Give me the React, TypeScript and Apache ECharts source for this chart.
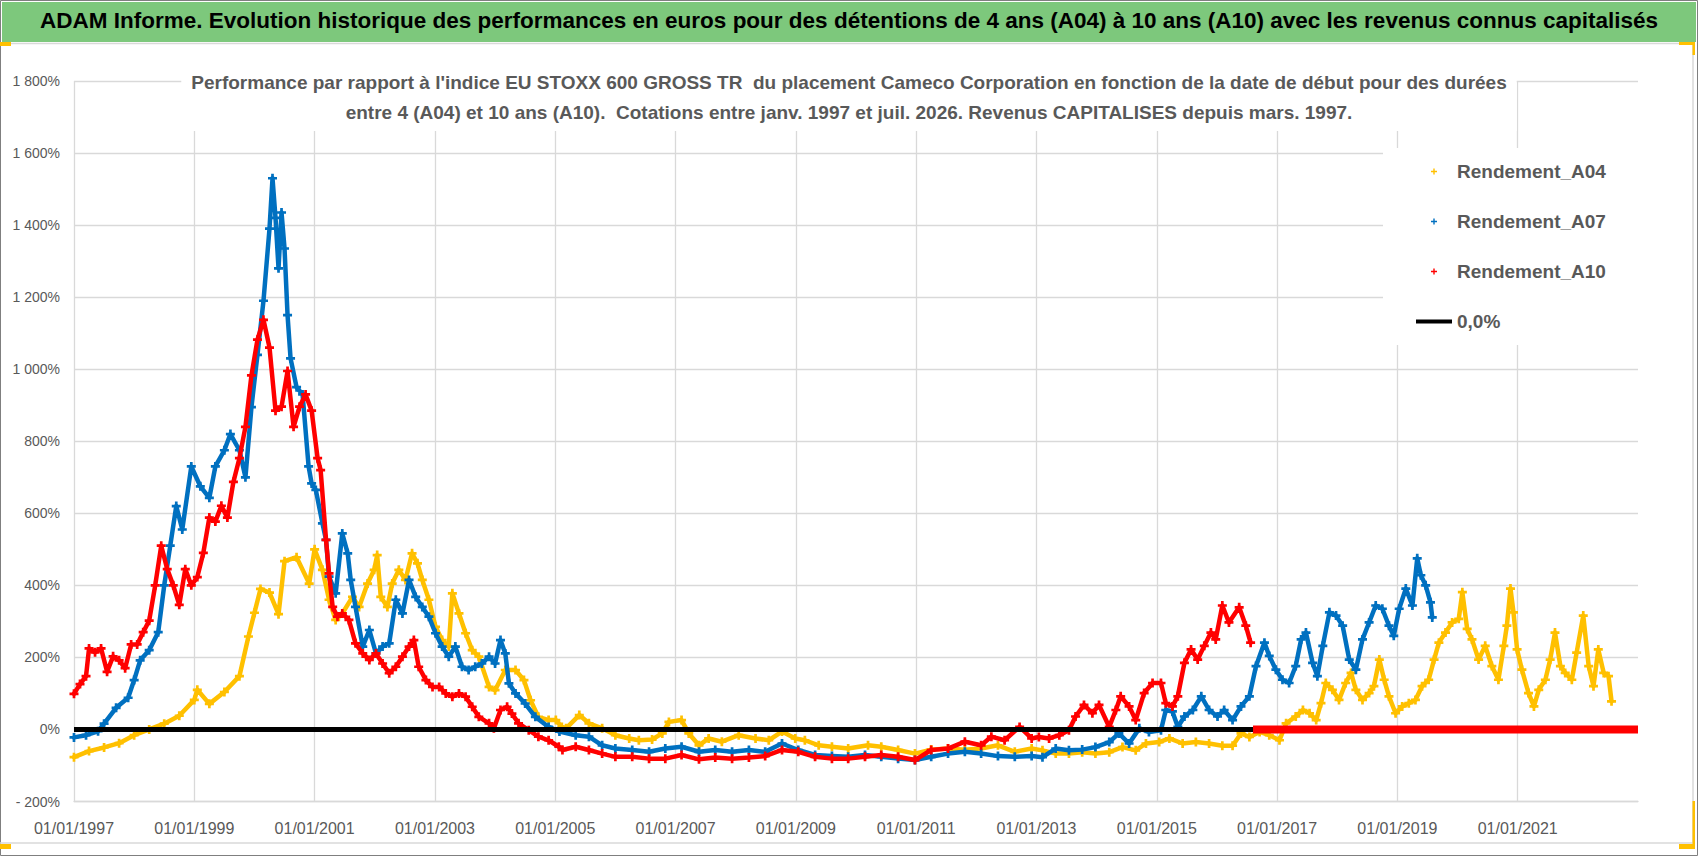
import React, { useEffect, useRef } from "react";
import * as echarts from "echarts";

const MAIN_TITLE =
  "ADAM Informe. Evolution historique des performances en euros pour des détentions de 4 ans (A04) à 10 ans (A10) avec les revenus connus capitalisés";
const SUBTITLE_LINES = [
  "Performance par rapport à l'indice EU STOXX 600 GROSS TR  du placement Cameco Corporation en fonction de la date de début pour des durées",
  "entre 4 (A04) et 10 ans (A10).  Cotations entre janv. 1997 et juil. 2026. Revenus CAPITALISES depuis mars. 1997.",
];
const SERIES_NAMES = ["Rendement_A04", "Rendement_A07", "Rendement_A10", "0,0%"];
const SERIES_COLORS = ["#FFC000", "#0070C0", "#FF0000", "#000000"];

const X_START = 1997;
const X_END = 2023;
const X_STEP = 2;
const Y_MIN = -200;
const Y_MAX = 1800;
const Y_STEP = 200;

// [decimal year of start date, performance %]
const A04: [number, number][] = [
  [1997.0, -77], [1997.25, -60], [1997.5, -50], [1997.75, -38], [1998.0, -16], [1998.25, 0], [1998.5, 16], [1998.75, 38],
  [1999.0, 82], [1999.05, 110], [1999.25, 71], [1999.5, 104], [1999.75, 148], [1999.9, 258], [2000.0, 324], [2000.1, 390],
  [2000.25, 380], [2000.4, 320], [2000.5, 467], [2000.7, 478], [2000.91, 405], [2001.0, 500], [2001.13, 443], [2001.24, 360],
  [2001.35, 304], [2001.46, 322], [2001.63, 368], [2001.74, 340], [2001.88, 405], [2001.99, 443], [2002.04, 484], [2002.1, 368],
  [2002.21, 340], [2002.29, 405], [2002.4, 443], [2002.51, 415], [2002.62, 489], [2002.71, 461], [2002.79, 415], [2002.9, 360],
  [2003.01, 285], [2003.12, 248], [2003.23, 230], [2003.29, 378], [2003.4, 322], [2003.51, 267], [2003.62, 220], [2003.73, 202],
  [2003.9, 118], [2004.0, 109], [2004.17, 165], [2004.34, 165], [2004.48, 137], [2004.59, 81], [2004.72, 35], [2004.89, 26],
  [2005.01, 26], [2005.11, 7], [2005.18, 3], [2005.4, 40], [2005.56, 17], [2005.78, 3], [2006.0, -16], [2006.23, -25],
  [2006.39, -30], [2006.61, -28], [2006.78, -11], [2006.89, 21], [2007.1, 26], [2007.22, -11], [2007.39, -44], [2007.55, -25],
  [2007.77, -34], [2008.05, -16], [2008.33, -25], [2008.55, -30], [2008.77, -6], [2008.99, -25], [2009.15, -30], [2009.38, -44],
  [2009.6, -48], [2009.87, -53], [2010.2, -44], [2010.42, -48], [2010.7, -57], [2010.98, -67], [2011.25, -56], [2011.53, -53],
  [2011.81, -56], [2012.08, -53], [2012.36, -44], [2012.64, -62], [2012.92, -53], [2013.1, -58], [2013.32, -67], [2013.54, -67],
  [2013.76, -63], [2013.98, -67], [2014.21, -63], [2014.43, -49], [2014.65, -58], [2014.82, -39], [2015.04, -35], [2015.21, -25],
  [2015.43, -39], [2015.65, -35], [2015.87, -39], [2016.09, -45], [2016.26, -45], [2016.4, -11], [2016.54, -21], [2016.71, -7],
  [2016.87, -16], [2017.04, -30], [2017.15, 17], [2017.31, 36], [2017.43, 54], [2017.54, 45], [2017.65, 26], [2017.73, 73],
  [2017.81, 129], [2017.92, 110], [2018.03, 82], [2018.14, 129], [2018.23, 157], [2018.31, 110], [2018.42, 82], [2018.53, 101],
  [2018.61, 120], [2018.7, 194], [2018.78, 138], [2018.86, 92], [2018.97, 45], [2019.08, 64], [2019.19, 73], [2019.3, 82],
  [2019.41, 120], [2019.52, 138], [2019.61, 194], [2019.69, 241], [2019.8, 269], [2019.91, 297], [2020.02, 307], [2020.08, 381],
  [2020.16, 279], [2020.24, 250], [2020.35, 194], [2020.46, 232], [2020.57, 176], [2020.68, 138], [2020.77, 232], [2020.82, 288],
  [2020.88, 391], [2020.93, 325], [2020.99, 222], [2021.07, 166], [2021.18, 101], [2021.27, 64], [2021.35, 110], [2021.46, 138],
  [2021.54, 194], [2021.62, 269], [2021.71, 176], [2021.79, 157], [2021.9, 138], [2021.98, 213], [2022.09, 316], [2022.18, 176],
  [2022.26, 120], [2022.34, 222], [2022.43, 157], [2022.51, 148], [2022.56, 78],
];

const A07: [number, number][] = [
  [1997.0, -22], [1997.2, -16], [1997.4, -5], [1997.5, 16], [1997.7, 60], [1997.9, 88], [1998.0, 137], [1998.1, 192],
  [1998.25, 220], [1998.4, 270], [1998.5, 400], [1998.6, 510], [1998.7, 620], [1998.8, 555], [1998.95, 730], [1999.1, 675],
  [1999.25, 643], [1999.35, 730], [1999.5, 775], [1999.6, 820], [1999.75, 775], [1999.85, 700], [1999.95, 895], [2000.05, 1040],
  [2000.15, 1190], [2000.25, 1390], [2000.3, 1530], [2000.35, 1420], [2000.4, 1280], [2000.45, 1435], [2000.5, 1335], [2000.55, 1150],
  [2000.6, 1030], [2000.7, 950], [2000.8, 930], [2000.9, 730], [2000.95, 683], [2001.02, 665], [2001.13, 572], [2001.19, 526],
  [2001.24, 424], [2001.35, 378], [2001.46, 544], [2001.55, 489], [2001.6, 415], [2001.68, 340], [2001.8, 230], [2001.91, 276],
  [2002.02, 211], [2002.13, 230], [2002.24, 239], [2002.35, 360], [2002.46, 322], [2002.57, 415], [2002.68, 368], [2002.79, 340],
  [2002.9, 313], [2003.01, 267], [2003.12, 230], [2003.23, 202], [2003.34, 230], [2003.45, 174], [2003.56, 165], [2003.67, 174],
  [2003.78, 183], [2003.9, 202], [2004.0, 183], [2004.09, 248], [2004.17, 211], [2004.23, 128], [2004.34, 100], [2004.5, 72],
  [2004.67, 35], [2004.89, 7], [2005.07, -6], [2005.34, -16], [2005.56, -20], [2005.78, -44], [2006.0, -53], [2006.28, -57],
  [2006.56, -62], [2006.83, -53], [2007.1, -48], [2007.39, -62], [2007.66, -57], [2007.94, -62], [2008.22, -57], [2008.49, -62],
  [2008.77, -39], [2009.04, -57], [2009.32, -71], [2009.6, -74], [2009.87, -76], [2010.15, -71], [2010.42, -76], [2010.7, -81],
  [2010.98, -85], [2011.25, -76], [2011.53, -67], [2011.81, -62], [2012.08, -67], [2012.36, -74], [2012.64, -76], [2012.92, -74],
  [2013.1, -77], [2013.32, -53], [2013.54, -58], [2013.76, -56], [2013.98, -49], [2014.21, -35], [2014.37, -11], [2014.54, -39],
  [2014.71, 3], [2014.87, -7], [2015.07, -2], [2015.15, 54], [2015.26, 50], [2015.35, 7], [2015.46, 36], [2015.6, 54],
  [2015.74, 92], [2015.87, 54], [2016.01, 36], [2016.12, 54], [2016.26, 26], [2016.4, 64], [2016.54, 92], [2016.65, 176],
  [2016.79, 241], [2016.87, 204], [2016.98, 166], [2017.09, 138], [2017.2, 129], [2017.31, 176], [2017.4, 250], [2017.48, 269],
  [2017.59, 185], [2017.67, 148], [2017.76, 232], [2017.87, 325], [2017.98, 316], [2018.09, 288], [2018.2, 194], [2018.31, 166],
  [2018.42, 250], [2018.53, 297], [2018.64, 344], [2018.75, 335], [2018.86, 288], [2018.94, 260], [2019.03, 335], [2019.14, 391],
  [2019.25, 344], [2019.33, 475], [2019.39, 428], [2019.47, 400], [2019.55, 353], [2019.58, 311],
];

const A10: [number, number][] = [
  [1997.0, 99], [1997.1, 126], [1997.2, 148], [1997.25, 225], [1997.35, 214], [1997.45, 225], [1997.55, 160], [1997.65, 203],
  [1997.75, 192], [1997.85, 170], [1997.95, 236], [1998.05, 236], [1998.15, 270], [1998.25, 302], [1998.35, 400], [1998.45, 510],
  [1998.55, 445], [1998.65, 400], [1998.75, 346], [1998.85, 445], [1998.95, 400], [1999.05, 423], [1999.15, 490], [1999.25, 588],
  [1999.35, 577], [1999.45, 621], [1999.55, 588], [1999.65, 687], [1999.75, 753], [1999.85, 840], [1999.95, 983], [2000.05, 1082],
  [2000.15, 1137], [2000.25, 1060], [2000.35, 885], [2000.45, 896], [2000.55, 995], [2000.65, 840], [2000.75, 896], [2000.85, 930],
  [2000.95, 885], [2001.05, 753], [2001.1, 720], [2001.19, 526], [2001.24, 433], [2001.3, 340], [2001.38, 313], [2001.46, 322],
  [2001.57, 304], [2001.68, 239], [2001.8, 211], [2001.91, 193], [2002.02, 211], [2002.13, 183], [2002.24, 156], [2002.35, 174],
  [2002.46, 202], [2002.57, 230], [2002.65, 248], [2002.73, 174], [2002.85, 137], [2002.96, 118], [2003.07, 118], [2003.18, 100],
  [2003.29, 91], [2003.4, 100], [2003.51, 91], [2003.62, 63], [2003.73, 35], [2003.9, 17], [2003.98, 3], [2004.09, 54],
  [2004.2, 63], [2004.28, 44], [2004.39, 17], [2004.56, -2], [2004.72, -20], [2004.89, -30], [2005.06, -48], [2005.12, -57],
  [2005.34, -48], [2005.56, -57], [2005.78, -67], [2006.0, -76], [2006.28, -76], [2006.56, -81], [2006.83, -81], [2007.1, -71],
  [2007.39, -83], [2007.66, -78], [2007.94, -81], [2008.22, -78], [2008.49, -74], [2008.77, -57], [2009.04, -62], [2009.32, -76],
  [2009.6, -81], [2009.87, -81], [2010.15, -76], [2010.42, -71], [2010.7, -76], [2010.98, -85], [2011.25, -57], [2011.53, -53],
  [2011.81, -34], [2012.08, -44], [2012.25, -20], [2012.47, -30], [2012.72, 7], [2012.92, -25], [2013.04, -21], [2013.21, -25],
  [2013.38, -16], [2013.54, -2], [2013.65, 36], [2013.79, 68], [2013.93, 45], [2014.04, 68], [2014.21, 7], [2014.32, 54],
  [2014.4, 92], [2014.54, 64], [2014.65, 26], [2014.79, 101], [2014.93, 129], [2015.07, 129], [2015.15, 73], [2015.26, 64],
  [2015.35, 92], [2015.46, 185], [2015.57, 222], [2015.68, 194], [2015.79, 232], [2015.9, 269], [2015.98, 250], [2016.09, 344],
  [2016.2, 297], [2016.37, 339], [2016.48, 288], [2016.56, 241],
];

// A10 has no known value after mid-2016: plotted at 0 until the end of the axis
const A10_ZERO_TAIL: [number, number][] = [[2016.6, 0], [2023.0, 0]];
// reference line 0,0%
const ZERO_LINE: [number, number][] = [[1997.0, 0], [2016.6, 0]];

const FONT = "'Liberation Sans', Arial, sans-serif";
const PLUS = "path://M3.5,0H6.5V3.5H10V6.5H6.5V10H3.5V6.5H0V3.5H3.5Z";
const LEGEND_PLUS = "path://M0,0ZM36,8ZM17.3,1H18.7V3.3H21V4.7H18.7V7H17.3V4.7H15V3.3H17.3Z";
const LEGEND_LINE = "path://M0,0ZM36,8ZM0,2.1H36V5.9H0Z";

function fmtPct(v: number): string {
  const a = Math.abs(v);
  const s = a >= 1000 ? Math.floor(a / 1000) + " " + String(a % 1000).padStart(3, "0") : String(a);
  return (v < 0 ? "- " : "") + s + "%";
}

export default function App() {
  const ref = useRef<HTMLDivElement>(null);
  useEffect(() => {
    document.body.style.margin = "0";
    const chart = echarts.init(ref.current!, undefined, { renderer: "svg" });
    const scatterSeries = (name: string, data: [number, number][], color: string, z: number) => ({
      name,
      type: "line",
      data,
      z,
      symbol: PLUS,
      symbolSize: 9,
      showAllSymbol: true,
      itemStyle: { color },
      lineStyle: { color, width: 4.5, join: "round", cap: "round" },
      emphasis: { disabled: true },
    });
    chart.setOption({
      animation: false,
      backgroundColor: "#ffffff",
      textStyle: { fontFamily: FONT },
      graphic: [
        { type: "rect", z: 0, shape: { x: 0.5, y: 0.5, width: 1697, height: 855 }, style: { fill: "none", stroke: "#7f7f7f", lineWidth: 1 } },
        { type: "rect", z: 0, shape: { x: 2, y: 2, width: 1694, height: 40 }, style: { fill: "#7dc87c" } },
        { type: "polyline", z: 0, shape: { points: [[0, 43.5], [1693, 43.5], [1693, 843], [0, 843]] }, style: { fill: "none", stroke: "#d9d9d9", lineWidth: 1.5 } },
        { type: "rect", z: 1, shape: { x: 0, y: 42, width: 11, height: 4 }, style: { fill: "#FFC000" } },
        { type: "rect", z: 1, shape: { x: 0, y: 844, width: 11, height: 5 }, style: { fill: "#FFC000" } },
        { type: "rect", z: 1, shape: { x: 1679, y: 42, width: 16, height: 3 }, style: { fill: "#FFC000" } },
        { type: "rect", z: 1, shape: { x: 1692.5, y: 42, width: 2.5, height: 13 }, style: { fill: "#FFC000" } },
        { type: "rect", z: 1, shape: { x: 1692.5, y: 801, width: 2.5, height: 48 }, style: { fill: "#FFC000" } },
        { type: "rect", z: 1, shape: { x: 1679, y: 844, width: 16, height: 5 }, style: { fill: "#FFC000" } },
      ],
      title: [
        {
          text: MAIN_TITLE,
          left: "center",
          top: 9,
          padding: 0,
          textStyle: { fontFamily: FONT, fontSize: 22.5, fontWeight: "bold", color: "#000000" },
        },
        {
          text: SUBTITLE_LINES.join("\n"),
          left: "center",
          top: 63,
          padding: [4, 10, 4, 10],
          backgroundColor: "#ffffff",
          textStyle: { fontFamily: FONT, fontSize: 19, fontWeight: "bold", color: "#595959", lineHeight: 30 },
        },
      ],
      legend: {
        orient: "vertical",
        left: 1383,
        top: 148,
        padding: [14, 33, 14, 33],
        itemGap: 31,
        itemWidth: 36,
        itemHeight: 8,
        backgroundColor: "#ffffff",
        selectedMode: false,
        textStyle: { fontFamily: FONT, fontSize: 19, fontWeight: "bold", color: "#595959" },
        data: [
          { name: SERIES_NAMES[0], icon: LEGEND_PLUS, itemStyle: { color: SERIES_COLORS[0] } },
          { name: SERIES_NAMES[1], icon: LEGEND_PLUS, itemStyle: { color: SERIES_COLORS[1] } },
          { name: SERIES_NAMES[2], icon: LEGEND_PLUS, itemStyle: { color: SERIES_COLORS[2] } },
          { name: SERIES_NAMES[3], icon: LEGEND_LINE, itemStyle: { color: SERIES_COLORS[3] } },
        ],
      },
      grid: { left: 74, right: 60, top: 81, bottom: 54.5, containLabel: false },
      xAxis: {
        type: "value",
        min: X_START,
        max: X_END,
        interval: X_STEP,
        axisLine: { show: true, onZero: false, lineStyle: { color: "#d9d9d9", width: 1.3 } },
        axisTick: { show: false },
        splitLine: { show: true, showMaxLine: false, lineStyle: { color: "#d9d9d9", width: 1.3 } },
        axisLabel: {
          showMaxLabel: false,
          margin: 19,
          fontFamily: FONT,
          fontSize: 16,
          color: "#595959",
          formatter: (v: number) => "01/01/" + v,
        },
      },
      yAxis: {
        type: "value",
        min: Y_MIN,
        max: Y_MAX,
        interval: Y_STEP,
        axisLine: { show: false, onZero: false },
        axisTick: { show: false },
        splitLine: { show: true, lineStyle: { color: "#d9d9d9", width: 1.3 } },
        axisLabel: { margin: 14, fontFamily: FONT, fontSize: 14, color: "#595959", formatter: fmtPct },
      },
      series: [
        scatterSeries(SERIES_NAMES[0], A04, SERIES_COLORS[0], 2),
        scatterSeries(SERIES_NAMES[1], A07, SERIES_COLORS[1], 3),
        scatterSeries(SERIES_NAMES[2], A10, SERIES_COLORS[2], 4),
        {
          name: SERIES_NAMES[3],
          type: "line",
          data: ZERO_LINE,
          z: 5,
          symbol: "none",
          lineStyle: { color: SERIES_COLORS[3], width: 5 },
          itemStyle: { color: SERIES_COLORS[3] },
          emphasis: { disabled: true },
        },
        {
          name: SERIES_NAMES[2],
          type: "line",
          data: A10_ZERO_TAIL,
          z: 6,
          symbol: "none",
          lineStyle: { color: SERIES_COLORS[2], width: 8 },
          itemStyle: { color: SERIES_COLORS[2] },
          emphasis: { disabled: true },
        },
      ],
    });
    return () => chart.dispose();
  }, []);
  return <div ref={ref} style={{ width: 1698, height: 856 }} />;
}
